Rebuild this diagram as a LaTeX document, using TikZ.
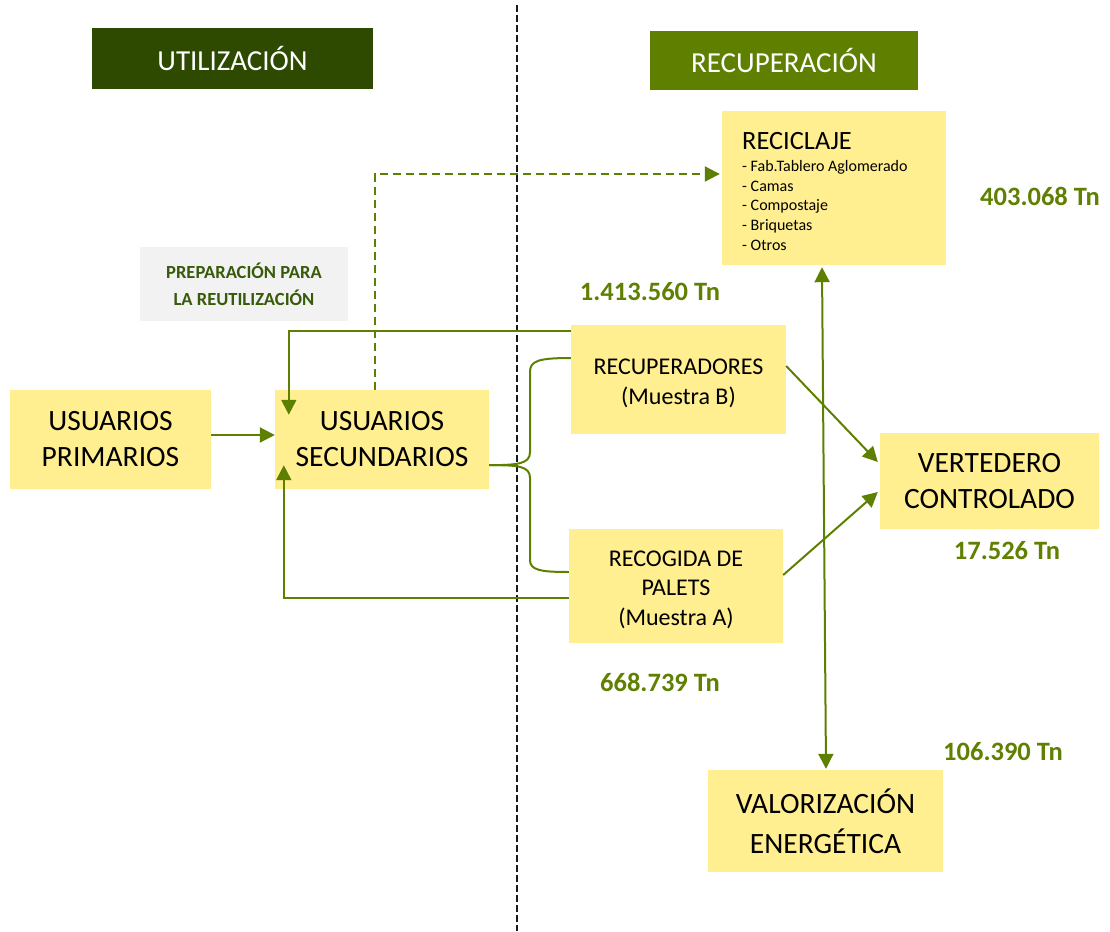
\documentclass[tikz,border=0pt]{standalone}
\usepackage{fontspec}
\setmainfont{Carlito}
\usetikzlibrary{arrows.meta,calc}
\definecolor{boxyellow}{HTML}{FFEF91}
\definecolor{darkhead}{HTML}{2E4A00}
\definecolor{midhead}{HTML}{5F7F00}
\definecolor{linegreen}{HTML}{5E8000}
\definecolor{numgreen}{HTML}{5F8000}
\definecolor{prepgray}{HTML}{F2F2F2}
\definecolor{preptext}{HTML}{375A0B}
\begin{document}
\begin{tikzpicture}[x=1pt,y=-1pt,
  box/.style={fill=boxyellow, inner sep=0pt, align=center, text=black},
  txt/.style={inner sep=0pt, align=center, text=black},
  headbox/.style={inner sep=0pt, text=white, font=\fontsize{29}{32}\selectfont},
  bigtxt/.style={font=\fontsize{29.5}{36}\selectfont},
  midtxt/.style={font=\fontsize{24}{29.5}\selectfont},
  numlab/.style={text=numgreen, font=\bfseries\fontsize{26.5}{28}\selectfont, inner sep=0pt},
  conn/.style={draw=linegreen, line width=2pt, -{Triangle[length=15pt,width=15pt]}},
  dconn/.style={conn, dash pattern=on 8pt off 5pt},
  brace/.style={draw=linegreen, line width=2pt},
  divider/.style={draw=black!90, line width=2pt, dash pattern=on 7pt off 3pt}]
\useasboundingbox (0,0) rectangle (1110,931);

% headers
\node[headbox, fill=darkhead, minimum width=281pt, minimum height=61pt] (util) at (232.5,58.5) {UTILIZACIÓN};
\node[headbox, fill=midhead, minimum width=268pt, minimum height=59pt] (recup) at (784,60.5) {RECUPERACIÓN};

% divider
\draw[divider] (517,5) -- (517,931);

% boxes
\node[box, minimum width=224pt, minimum height=154pt] (recic) at (834,188) {};
\node[anchor=west, inner sep=0pt, font=\fontsize{26.4}{28}\selectfont] (recictitle) at (742,141) {RECICLAJE};
\node[anchor=north west, inner sep=0pt, align=left, font=\fontsize{16}{19.75}\selectfont] (reciclist) at (742,160)
  {- Fab.Tablero Aglomerado\\- Camas\\- Compostaje\\- Briquetas\\- Otros};

\node[fill=prepgray, inner sep=0pt, minimum width=208pt, minimum height=74pt, align=center,
  text=preptext, font=\bfseries\fontsize{18.5}{27}\selectfont] (prep) at (244,284) {PREPARACIÓN PARA\\LA REUTILIZACIÓN};

\node[box, bigtxt, minimum width=201pt, minimum height=99pt] (prim) at (110.5,439.5) {USUARIOS\\PRIMARIOS};
\node[box, bigtxt, minimum width=214pt, minimum height=99pt] (sec) at (382,439.5) {USUARIOS\\SECUNDARIOS};
\node[box, minimum width=215pt, minimum height=109pt] (recb) at (678.5,379.5) {};
\node[txt, midtxt] (recbtxt) at ($(recb.center)+(0,4)$) {RECUPERADORES\\(Muestra B)};
\node[box, minimum width=214pt, minimum height=114pt] (reca) at (676,586) {};
\node[txt, midtxt] (recatxt) at ($(reca.center)+(0,3.5)$) {RECOGIDA DE\\PALETS\\(Muestra A)};
\node[box, bigtxt, minimum width=219pt, minimum height=96pt] (vert) at (989.5,481) {VERTEDERO\\CONTROLADO};
\node[box, font=\fontsize{29.5}{40}\selectfont, minimum width=235pt, minimum height=102pt] (val) at (825.5,821) {VALORIZACIÓN\\ENERGÉTICA};

% numbers
\node[numlab] (n1) at (1040,196) {403.068 Tn};
\node[numlab] (n2) at (650,292) {1.413.560 Tn};
\node[numlab] (n3) at (1007,551) {17.526 Tn};
\node[numlab] (n4) at (660,682) {668.739 Tn};
\node[numlab] (n5) at (1003,752) {106.390 Tn};

% connectors
\draw[conn] ($(prim.east)+(0,-4.5)$) -- ($(sec.west)+(0,-4.5)$);
\draw[dconn] ($(sec.north west)+(100,0)$) |- ($(recic.west)+(-2,-14)$);
\draw[conn] ($(recb.north west)+(0,6)$) -| ($(sec.north west)+(14,25)$);
\draw[conn] ($(reca.west)+(0,12)$) -| ($(sec.south west)+(9,-24)$);

\coordinate (bs) at ($(sec.south east)+(0,-24)$);
\coordinate (bt) at ($(recb.west)+(0,-21.5)$);
\coordinate (bb) at ($(reca.west)+(0,-14)$);
\draw[brace] (bs) .. controls (518,465) and (530,464) .. (530,452) -- (530,372)
  .. controls (530,361) and (538,358) .. (bt);
\draw[brace] (bs) .. controls (518,465) and (530,466) .. (530,478) -- (530,560)
  .. controls (530,570) and (540,572) .. (bb);

\draw[conn] ($(recb.east)+(0,-13.5)$) -- ($(vert.west)+(-2,-19)$);
\draw[conn] ($(reca.east)+(0,-11)$) -- ($(vert.west)+(-2,11)$);
\draw[conn, {Triangle[length=15pt,width=15pt]}-{Triangle[length=15pt,width=15pt]}]
  ($(recic.south)+(-12,2)$) -- ($(val.north)+(0.5,-1)$);
\end{tikzpicture}
\end{document}
